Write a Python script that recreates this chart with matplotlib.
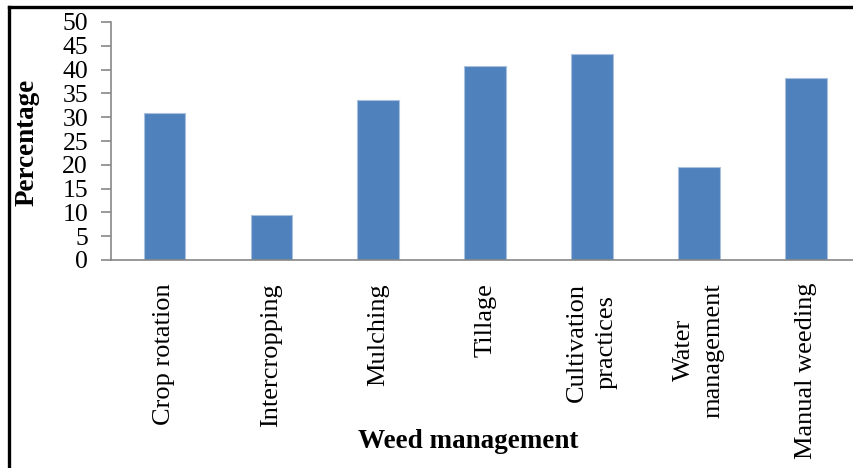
import matplotlib.pyplot as plt
from matplotlib.lines import Line2D

categories = ['Crop rotation', 'Intercropping', 'Mulching', 'Tillage',
              'Cultivation\npractices', 'Water\nmanagement', 'Manual weeding']
percentage = [30.9, 9.5, 33.6, 40.8, 43.3, 19.5, 38.2]
yticks = [0, 5, 10, 15, 20, 25, 30, 35, 40, 45, 50]

plt.rcParams['font.family'] = ['Liberation Serif', 'DejaVu Serif']

fig = plt.figure(figsize=(8.54, 4.68), dpi=100)
ax = fig.add_axes([111/854, 1 - 260/468, 743/854, 238/468])

x = range(len(categories))
ax.bar(x, percentage, width=0.39, color='#4F81BD', edgecolor='#A9C0DE', linewidth=0.8)

ax.set_xlim(-0.5, 6.45)
ax.set_ylim(0, 50)
ax.set_yticks(yticks)
ax.set_yticklabels([str(t) for t in yticks], fontsize=18.5)
ax.set_xticks(list(x))
ax.set_xticklabels(categories, rotation=90, fontsize=19, ha='center', va='top',
                   multialignment='center')
for lbl in ax.get_xticklabels():
    lbl.set_linespacing(1.45)

for s in ['top', 'right']:
    ax.spines[s].set_visible(False)
ax.spines['left'].set_color('#878787')
ax.spines['bottom'].set_color('#878787')
ax.spines['left'].set_linewidth(1.2)
ax.spines['bottom'].set_linewidth(1.2)
ax.tick_params(axis='y', direction='out', length=7.5, width=1.2, color='#878787', pad=9)
ax.tick_params(axis='x', length=0, pad=16.5)

# x axis line extends left to the tick end
ax.add_line(Line2D([100/854, 111/854], [1 - 260/468, 1 - 260/468], transform=fig.transFigure,
                   color='#878787', linewidth=1.2))

fig.text(27/854, 1 - 142/468, 'Percentage', rotation=90, fontsize=19.5, fontweight='bold',
         ha='center', va='center')
fig.text(468/854, 1 - 441/468, 'Weed management', fontsize=19.5, fontweight='bold',
         ha='center', va='center')

# outer frame (left and top)
fig.add_artist(Line2D([9/854, 9/854], [0, 1 - 7/468], transform=fig.transFigure,
                      color='black', linewidth=2.4))
fig.add_artist(Line2D([9/854, 1], [1 - 7/468, 1 - 7/468], transform=fig.transFigure,
                      color='black', linewidth=2.4))

fig.savefig('out.png', dpi=100)
